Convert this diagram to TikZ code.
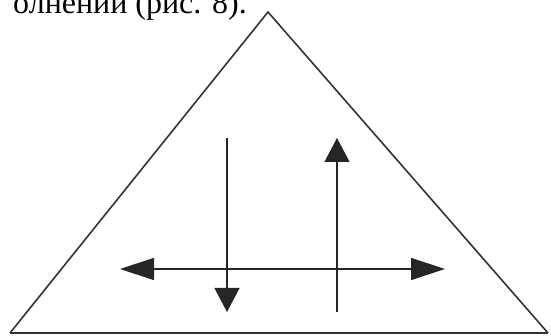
\documentclass[tikz,border=0pt]{standalone}
\usepackage{fontspec}
\setmainfont{Liberation Serif}
\usetikzlibrary{arrows.meta}
\begin{document}
\begin{tikzpicture}[x=1pt,y=-1pt,
  edge/.style={line width=1.6pt, draw=black!80},
  arr/.style={line width=1.3pt, draw=black!85},
  vhead/.style={-{Triangle[length=24pt,width=25pt]}},
  hhead/.style={-{Triangle[length=34pt,width=22pt]}}]
\useasboundingbox (0,0) rectangle (551,336);
\clip (0,0) rectangle (551,336);
\node[anchor=base east, font=\fontsize{32}{34}\selectfont, inner sep=0pt] (caption) at (247,14) {олнений (рис. 8).};
% triangle
\coordinate (apex) at (268,12);
\coordinate (bl) at (10,333);
\coordinate (br) at (548,333);
\draw[edge, line join=miter] (bl) -- (apex) -- (br);
\draw[line width=2.2pt, draw=black!80] (bl) -- (br);
% arrows
\coordinate (dtop) at (227,138);
\coordinate (dtip) at (227,312);
\coordinate (ubot) at (337,312);
\coordinate (utip) at (337,138);
\coordinate (hl) at (120,269);
\coordinate (hr) at (445,269);
\coordinate (hm) at (282,269);
\draw[arr, vhead] (dtop) -- (dtip);
\draw[arr, vhead] (ubot) -- (utip);
\draw[arr, hhead] (hm) -- (hl);
\draw[arr, hhead] (hm) -- (hr);
\end{tikzpicture}
\end{document}
